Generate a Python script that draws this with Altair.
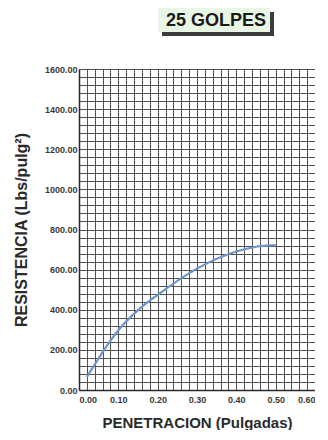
import altair as alt
import pandas as pd
import numpy as np

# Data
penetracion = [0.02, 0.05, 0.075, 0.10, 0.15, 0.20, 0.30, 0.40, 0.45, 0.50]
resistencia = [65, 158, 232, 298, 398, 474, 605, 690, 714, 722]

x_ticks = [round(v, 2) for v in np.arange(0, 0.6001, 0.02)]
y_ticks = list(range(0, 1601, 40))

df = pd.DataFrame({"x": penetracion, "y": resistencia})

FONT = "Liberation Sans"
GRID = "#505050"

x_enc = alt.X(
    "x:Q",
    scale=alt.Scale(domain=[0, 0.6], nice=False, zero=False),
    axis=alt.Axis(
        values=x_ticks,
        labelExpr="abs(datum.value*10 - round(datum.value*10)) < 0.001 ? format(datum.value, '.2f') : ''",
        title="PENETRACION (Pulgadas)",
        titleFontSize=15,
        titleFont=FONT,
        titleFontWeight="bold",
        titleColor="#2a2a2a",
        titlePadding=11,
        labelFont=FONT,
        labelFontSize=9,
        labelFontWeight="bold",
        labelColor="#3a3a3a",
        labelPadding=5,
        labelFlush=True,
        labelOverlap=False,
        ticks=False,
        grid=True,
        gridColor=GRID,
        gridWidth=1,
        domainColor="#2a2a2a",
        domainWidth=1.5,
    ),
)

y_enc = alt.Y(
    "y:Q",
    scale=alt.Scale(domain=[0, 1600], nice=False),
    axis=alt.Axis(
        values=y_ticks,
        labelExpr="datum.value % 200 == 0 ? format(datum.value, '.2f') : ''",
        title="RESISTENCIA (Lbs/pulg²)",
        titleFontSize=16,
        titleFont=FONT,
        titleFontWeight="bold",
        titleColor="#2a2a2a",
        titlePadding=15,
        labelFont=FONT,
        labelFontSize=9,
        labelFontWeight="bold",
        labelColor="#3a3a3a",
        labelPadding=2,
        labelOverlap=False,
        ticks=False,
        grid=True,
        gridColor=GRID,
        gridWidth=1,
        domainColor="#2a2a2a",
        domainWidth=1.5,
    ),
)

line = alt.Chart(df).mark_line(
    interpolate="monotone", color="#7094c9", strokeWidth=2.2
).encode(x=x_enc, y=y_enc)

title_df = pd.DataFrame({"t": ["25 GOLPES"]})
shadow = alt.Chart(title_df).mark_rect(color="#3c3c3c").encode(
    x=alt.value(83), x2=alt.value(195), y=alt.value(-57), y2=alt.value(-33)
)
box = alt.Chart(title_df).mark_rect(color="#e8f6e6").encode(
    x=alt.value(79), x2=alt.value(191), y=alt.value(-61), y2=alt.value(-37)
)
txt = alt.Chart(title_df).mark_text(
    font=FONT, fontSize=18, fontWeight="bold", color="#1a1a1a", baseline="middle"
).encode(x=alt.value(137), y=alt.value(-48), text="t:N")

chart = (
    alt.layer(line, shadow, box, txt)
    .properties(width=236, height=321, padding={"left": 5, "top": 0, "right": 0, "bottom": 0})
    .configure_view(stroke="#2a2a2a", strokeWidth=1.5)
    .configure(background="white")
)

chart.save("out.html", embed_options={"renderer": "svg", "actions": False})
